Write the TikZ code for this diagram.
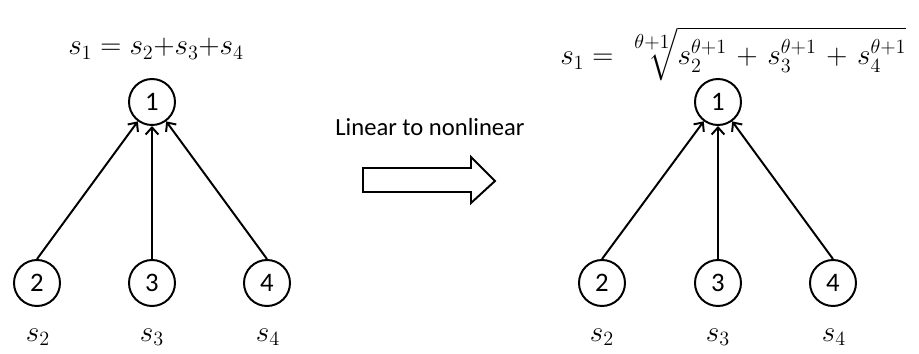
\documentclass[tikz,border=0pt]{standalone}
\usepackage{amsmath}
\usepackage{fontspec}
\setsansfont{Carlito}
\usetikzlibrary{arrows.meta}
\tikzset{
  unit/.style={circle, draw, line width=1.4pt, minimum size=1.15cm, inner sep=0pt, font=\sffamily\fontsize{19}{22}\selectfont},
  link/.style={-{Straight Barb[length=5pt,width=9pt,line width=1.4pt]}, line width=1.4pt},
  lbl/.style={font=\fontsize{20}{24}\selectfont}
}
\begin{document}
\begin{tikzpicture}
    \useasboundingbox (0,0) rectangle (22.975,8.825);

    % Linear graph
    \node[unit] (L1) at (3.8,6.275) {1};
    \node[unit] (L2) at (0.925,1.75) {2};
    \node[unit] (L3) at (3.8,1.75) {3};
    \node[unit] (L4) at (6.675,1.75) {4};
    \draw[link] (L2.north) -- (L1);
    \draw[link] (L3.north) -- (L1);
    \draw[link] (L4.north) -- (L1);
    \node[lbl, anchor=base] (Leq) at (3.9,7.45) {$s_1 = s_2{+}s_3{+}s_4$};
    \node[lbl, anchor=base] (Ls2) at (0.95,0.3) {$s_2$};
    \node[lbl, anchor=base] (Ls3) at (3.8,0.3) {$s_3$};
    \node[lbl, anchor=base] (Ls4) at (6.7,0.3) {$s_4$};

    % Transition
    \node[font=\sffamily\fontsize{17.5}{20}\selectfont] (trans) at (10.75,5.65) {Linear to nonlinear};
    \draw[line width=1.4pt, line join=miter] (9.075,4.625) -- (11.775,4.625) -- (11.775,4.9) -- (12.375,4.3)
        -- (11.775,3.75) -- (11.775,4.025) -- (9.075,4.025) -- cycle;

    % Nonlinear graph
    \node[unit] (R1) at (17.95,6.275) {1};
    \node[unit] (R2) at (15.05,1.75) {2};
    \node[unit] (R3) at (17.95,1.75) {3};
    \node[unit] (R4) at (20.825,1.75) {4};
    \draw[link] (R2.north) -- (R1);
    \draw[link] (R3.north) -- (R1);
    \draw[link] (R4.north) -- (R1);
    \node[lbl, anchor=base west, inner sep=0pt] (Req) at (14.0,7.2)
        {$\displaystyle\medmuskip=6mu s_1 = \sqrt[\leftroot{-3}\uproot{2}\scriptstyle\theta+1]{\vphantom{\big|}s_2^{\theta+1} + s_3^{\theta+1} + s_4^{\theta+1}}$};
    \node[lbl, anchor=base] (Rs2) at (15.05,0.3) {$s_2$};
    \node[lbl, anchor=base] (Rs3) at (17.95,0.3) {$s_3$};
    \node[lbl, anchor=base] (Rs4) at (20.85,0.3) {$s_4$};
\end{tikzpicture}
\end{document}
